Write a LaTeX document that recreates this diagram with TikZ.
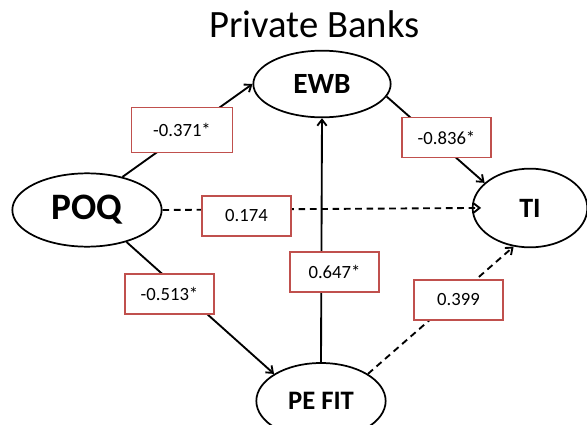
\documentclass[tikz,border=0pt]{standalone}
\usepackage{fontspec}
\setmainfont{Carlito}
\usetikzlibrary{arrows.meta, positioning, shapes.geometric}
\definecolor{boxred}{RGB}{192,80,77}
\tikzset{>={Straight Barb[length=4.5pt,width=7pt]}}

\begin{document}
\begin{tikzpicture}[x=0.75pt, y=-0.75pt, line width=1.4pt,
        latent/.style={ellipse, draw, line width=1.3pt, inner sep=0pt, font=\bfseries},
        coef/.style={draw=boxred, line width=1.2pt, fill=white, font=\fontsize{14}{16}\selectfont,
            minimum width=67pt, minimum height=30pt, inner sep=0pt},
        wide/.style={minimum width=76pt, minimum height=34pt},
        nsig/.style={dash pattern=on 5pt off 3.5pt}]
        \useasboundingbox (0,0) rectangle (587,425);

        \node (title) at (314.5,24) {\fontsize{29}{32}\selectfont Private Banks};

        \node [latent, minimum width=112pt, minimum height=55pt, font=\bfseries\fontsize{28}{30}\selectfont] (poq) at (87,210) {POQ};
        \node [latent, minimum width=103pt, minimum height=50pt, font=\bfseries\fontsize{22}{24}\selectfont] (ewb) at (322,84) {EWB};
        \node [latent, minimum width=86pt, minimum height=59pt, font=\bfseries\fontsize{21}{24}\selectfont] (ti) at (530,208) {TI};
        \node [latent, minimum width=97pt, minimum height=57pt, font=\bfseries\fontsize{20}{22}\selectfont] (pefit) at (321,401) {PE FIT};

        % paths
        \draw [->] (poq.43) -- (ewb.180);
        \draw [->] (ewb.-11) -- (ti.151);
        \draw [->, nsig, shorten >=-7pt] (poq.east) -- (ti.west);
        \draw [->] (poq.-39) -- (pefit.150);
        \draw [->] (pefit.north) -- (ewb.south);
        \draw [->, nsig] (pefit.30) -- (ti.247);

        % coefficients
        \node [coef, wide] (c1) at (182,130) {-0.371*};
        \node [coef] (c2) at (446.5,137.5) {-0.836*};
        \node [coef] (c3) at (246.5,216) {0.174};
        \node [coef] (c4) at (169.5,294) {-0.513*};
        \node [coef] (c5) at (334.5,272) {0.647*};
        \node [coef] (c6) at (458.5,300) {0.399};
\end{tikzpicture}
\end{document}
